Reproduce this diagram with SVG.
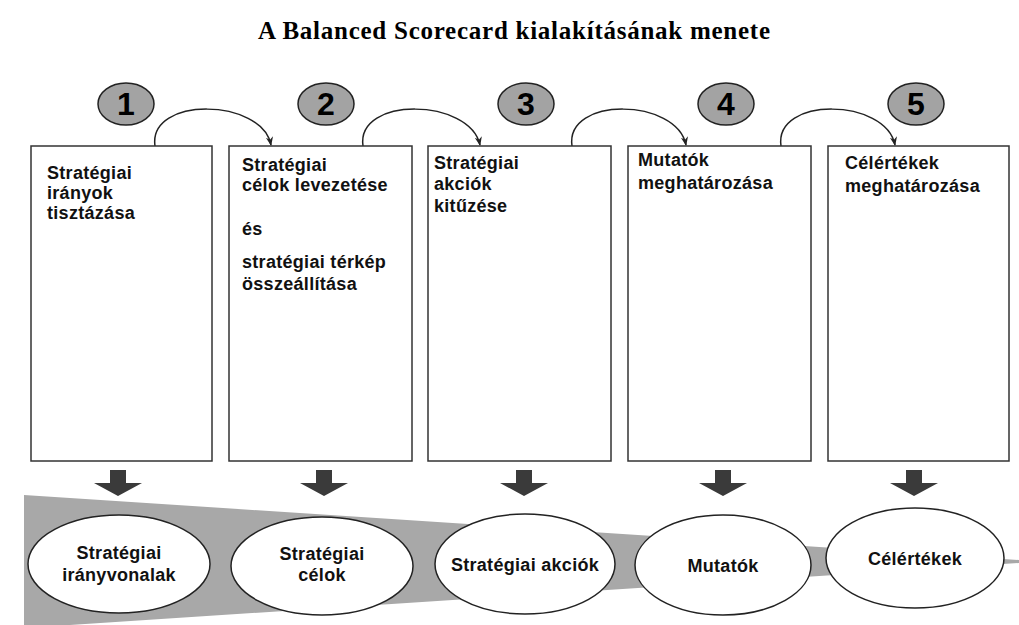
<svg xmlns="http://www.w3.org/2000/svg" width="1019" height="625" viewBox="0 0 1019 625">
<defs>
<style>
.title{font-family:"Liberation Serif","Times New Roman",serif;font-weight:bold;font-size:25px;fill:#000}
.bt{font-family:"Liberation Sans",Arial,sans-serif;font-weight:bold;font-size:18px;fill:#111;letter-spacing:0.3px}
.et{font-family:"Liberation Sans",Arial,sans-serif;font-weight:bold;font-size:18px;fill:#111;letter-spacing:0.3px;text-anchor:middle}
.num{font-family:"Liberation Sans",Arial,sans-serif;font-weight:bold;font-size:32px;fill:#000;text-anchor:middle}
.box{fill:#fff;stroke:#333;stroke-width:1.5}
.circ{fill:#a3a3a3;stroke:#222;stroke-width:1.5}
.ell{fill:#fff;stroke:#222;stroke-width:1.5}
.curve{fill:none;stroke:#222;stroke-width:1.5;marker-end:url(#ah)}
.down{fill:#3a3a3a}
</style>
<marker id="ah" viewBox="0 0 10 10" refX="9" refY="5" markerWidth="9" markerHeight="9" orient="auto" markerUnits="userSpaceOnUse">
<path d="M0,1 L10,5 L0,9 L3,5 Z" fill="#222"/>
</marker>
</defs>
<rect width="1019" height="625" fill="#fff"/>
<text class="title" x="514" y="39" text-anchor="middle" textLength="512" lengthAdjust="spacing">A Balanced Scorecard kialakításának menete</text>

<polygon points="24,495 1019,560 1019,563 24,628" fill="#a8a8a8"/>

<g id="connectors">
<path class="curve" d="M155,146 C148,96 262,98 271,145"/>
<path class="curve" d="M363,146 C356,96 470,98 480,145"/>
<path class="curve" d="M572,146 C565,96 677,98 686,145"/>
<path class="curve" d="M781,146 C774,96 886,98 895,145"/>
<polygon class="down" points="110,470 126,470 126,483 142,483 118,496 94,483 110,483"/>
<polygon class="down" points="316,470 332,470 332,483 348,483 324,496 300,483 316,483"/>
<polygon class="down" points="516,470 532,470 532,483 548,483 524,496 500,483 516,483"/>
<polygon class="down" points="715,470 731,470 731,483 747,483 723,496 699,483 715,483"/>
<polygon class="down" points="906,470 922,470 922,483 938,483 914,496 890,483 906,483"/>
</g>

<g id="step1">
<ellipse class="circ" cx="126" cy="104" rx="28" ry="21"/>
<text class="num" x="126" y="115">1</text>
<rect class="box" x="31" y="146" width="181" height="315"/>
<text class="bt" x="47" y="179">Stratégiai</text>
<text class="bt" x="47" y="199">irányok</text>
<text class="bt" x="47" y="219">tisztázása</text>
</g>
<g id="step2">
<ellipse class="circ" cx="326" cy="104" rx="28" ry="21"/>
<text class="num" x="326" y="115">2</text>
<rect class="box" x="229" y="146" width="183" height="315"/>
<text class="bt" x="242" y="171">Stratégiai</text>
<text class="bt" x="242" y="191">célok levezetése</text>
<text class="bt" x="242" y="235">és</text>
<text class="bt" x="242" y="268">stratégiai térkép</text>
<text class="bt" x="242" y="290">összeállítása</text>
</g>
<g id="step3">
<ellipse class="circ" cx="526" cy="104" rx="28" ry="21"/>
<text class="num" x="526" y="115">3</text>
<rect class="box" x="428" y="146" width="183" height="315"/>
<text class="bt" x="434" y="169">Stratégiai</text>
<text class="bt" x="434" y="190">akciók</text>
<text class="bt" x="434" y="212">kitűzése</text>
</g>
<g id="step4">
<ellipse class="circ" cx="726" cy="104" rx="28" ry="21"/>
<text class="num" x="726" y="115">4</text>
<rect class="box" x="628" y="146" width="183" height="315"/>
<text class="bt" x="638" y="166">Mutatók</text>
<text class="bt" x="638" y="189">meghatározása</text>
</g>
<g id="step5">
<ellipse class="circ" cx="916" cy="104" rx="28" ry="21"/>
<text class="num" x="916" y="115">5</text>
<rect class="box" x="828" y="146" width="181" height="315"/>
<text class="bt" x="845" y="169">Célértékek</text>
<text class="bt" x="845" y="192">meghatározása</text>
</g>

<g id="result1">
<ellipse class="ell" cx="119" cy="564" rx="91" ry="49"/>
<text class="et" x="119" y="559">Stratégiai</text>
<text class="et" x="119" y="581">irányvonalak</text>
</g>
<g id="result2">
<ellipse class="ell" cx="322" cy="566" rx="91" ry="49"/>
<text class="et" x="322" y="560">Stratégiai</text>
<text class="et" x="322" y="581">célok</text>
</g>
<g id="result3">
<ellipse class="ell" cx="525" cy="564" rx="90" ry="50"/>
<text class="et" x="525" y="571">Stratégiai akciók</text>
</g>
<g id="result4">
<ellipse class="ell" cx="723" cy="565" rx="88" ry="50"/>
<text class="et" x="723" y="572">Mutatók</text>
</g>
<g id="result5">
<ellipse class="ell" cx="915" cy="558" rx="89" ry="50"/>
<text class="et" x="915" y="565">Célértékek</text>
</g>
</svg>
